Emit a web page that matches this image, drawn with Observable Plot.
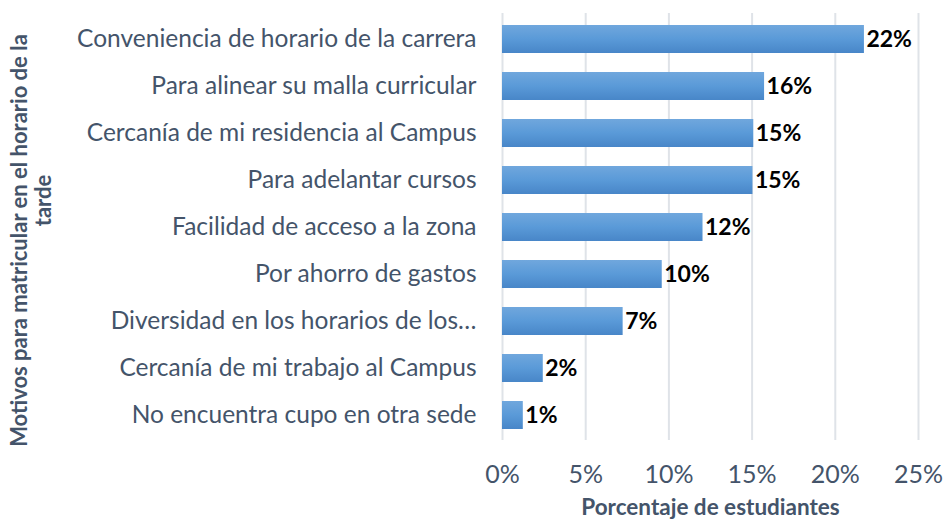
<!DOCTYPE html>
<html>
<head>
<meta charset="utf-8">
<script src="https://cdn.jsdelivr.net/npm/d3@7"></script>
<script src="https://cdn.jsdelivr.net/npm/@observablehq/plot@0.6"></script>
<style>
  html, body { margin: 0; padding: 0; background: #fff; }
  #chart { width: 943px; height: 522px; }
</style>
</head>
<body>
<div id="chart"></div>
<script>
const categories = [
  "Conveniencia de horario de la carrera",
  "Para alinear su malla curricular",
  "Cercanía de mi residencia al Campus",
  "Para adelantar cursos",
  "Facilidad de acceso a la zona",
  "Por ahorro de gastos",
  "Diversidad en los horarios de los…",
  "Cercanía de mi trabajo al Campus",
  "No encuentra cupo en otra sede"
];
const values = [21.75, 15.75, 15.1, 15.05, 12.05, 9.6, 7.25, 2.45, 1.25];
const valueLabels = ["22%", "16%", "15%", "15%", "12%", "10%", "7%", "2%", "1%"];
const xTicks = [0, 5, 10, 15, 20, 25];
const xTitle = "Porcentaje de estudiantes";
const yTitleLines = ["Motivos para matricular en el horario de la", "tarde"];

const data = categories.map((c, i) => ({category: c, value: values[i], label: valueLabels[i]}));
const axisColor = "#44546a";
const font = "Lato, 'Open Sans', sans-serif";

const plot = Plot.plot({
  width: 943,
  height: 522,
  marginLeft: 502,
  marginRight: 25,
  marginTop: 13,
  marginBottom: 82,
  style: {fontFamily: font, background: "#fff"},
  x: {domain: [0, 25], ticks: xTicks, tickFormat: d => d + "%"},
  y: {domain: categories, paddingInner: 0.41, paddingOuter: 0.2},
  marks: [
    Plot.gridX(xTicks, {stroke: "#dfe3e8", strokeOpacity: 1, strokeWidth: 2}),
    Plot.axisX({ticks: xTicks, tickSize: 0, tickPadding: 25, fontSize: 25, color: axisColor, label: null, tickFormat: d => d + "%"}),
    Plot.axisY({tickSize: 0, tickPadding: 26, fontSize: 24.5, color: axisColor, label: null}),
    Plot.barX(data, {y: "category", x: "value", fill: "#5b9bd5"}),
    Plot.text(data, {y: "category", x: "value", text: "label", textAnchor: "start", dx: 2, fontSize: 23, fontWeight: "bold", fill: "#000"}),
    Plot.text([xTitle], {frameAnchor: "bottom", textAnchor: "middle", dy: 74, fontSize: 22.5, fontWeight: "bold", fill: axisColor}),
    Plot.text([yTitleLines[0]], {frameAnchor: "left", textAnchor: "middle", dx: -483, dy: 13.5, rotate: -90, fontSize: 22, fontWeight: "bold", fill: axisColor}),
    Plot.text([yTitleLines[1]], {frameAnchor: "left", textAnchor: "middle", dx: -459, dy: -26.5, rotate: -90, fontSize: 22, fontWeight: "bold", fill: axisColor})
  ]
});

// gradient fill for bars
const svg = d3.select(plot.tagName.toLowerCase() === "svg" ? plot : plot.querySelector("svg"));
const defs = svg.insert("defs", ":first-child");
const grad = defs.append("linearGradient").attr("id", "barGrad").attr("x1", 0).attr("y1", 0).attr("x2", 0).attr("y2", 1);
grad.append("stop").attr("offset", "0%").attr("stop-color", "#70a7dd");
grad.append("stop").attr("offset", "50%").attr("stop-color", "#5a9ad8");
grad.append("stop").attr("offset", "100%").attr("stop-color", "#4886c8");
svg.selectAll("g[aria-label='bar'] rect").attr("fill", "url(#barGrad)");

document.getElementById("chart").appendChild(plot);
</script>
</body>
</html>
